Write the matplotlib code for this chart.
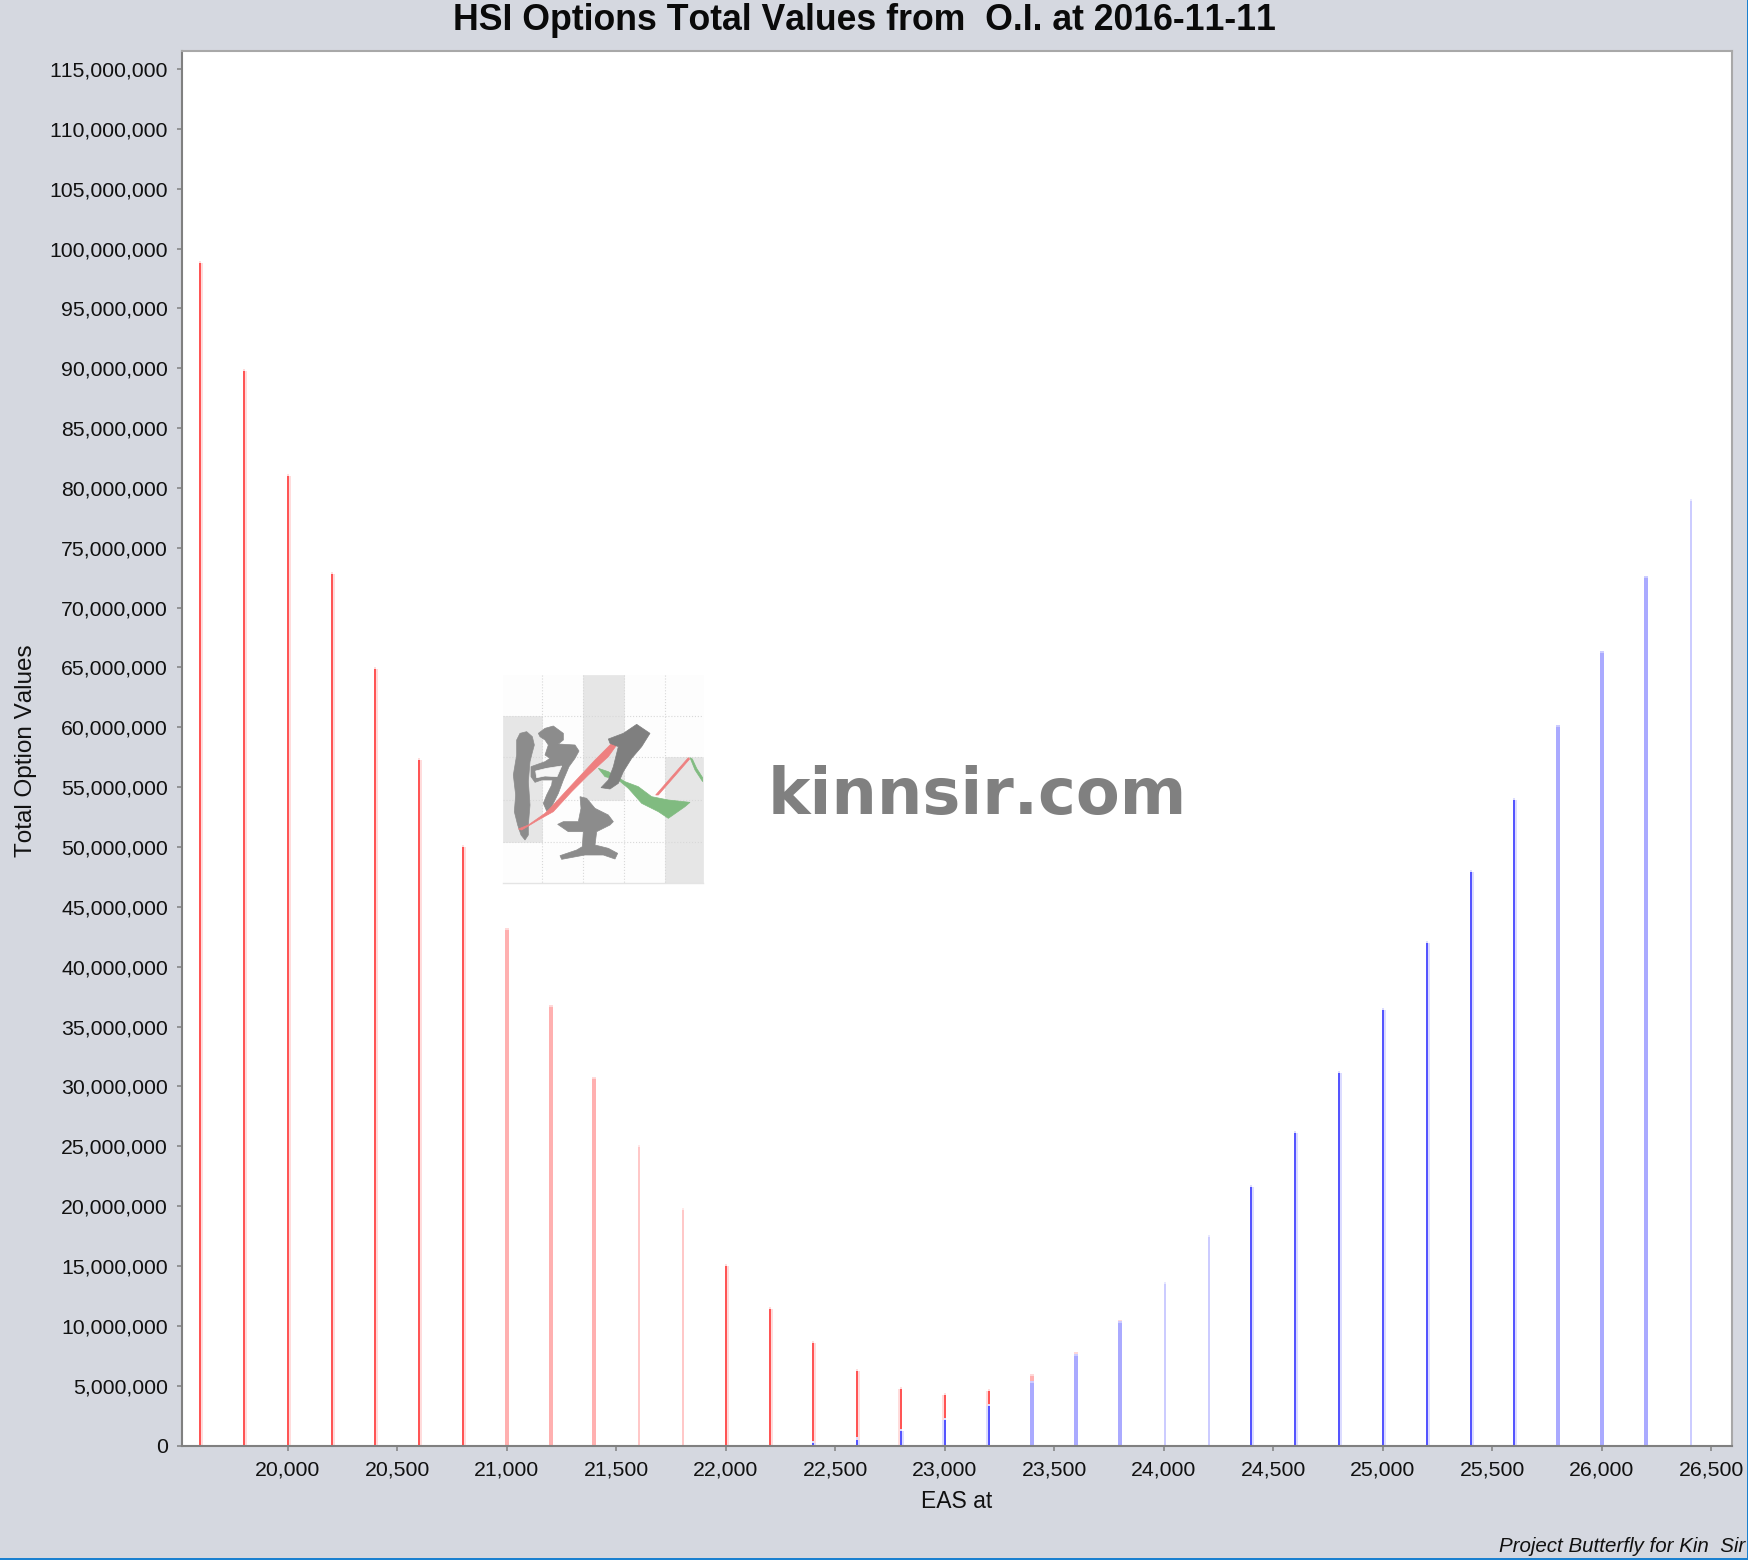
#!/usr/bin/python3

import matplotlib
matplotlib.use('Agg')
import matplotlib.pyplot as plt
from matplotlib.patches import Polygon, Rectangle
from matplotlib.ticker import FuncFormatter, MultipleLocator

# Values
strikes_red = [19600, 19800, 20000, 20200, 20400, 20600, 20800, 21000, 21200, 21400, 21600,
               21800, 22000, 22200, 22400, 22600, 22800, 23000, 23200, 23400, 23600, 23800]
values_red = [98800000, 89800000, 81000000, 72800000, 64900000, 57300000, 50000000, 43100000,
              36600000, 30600000, 24900000, 19700000, 15000000, 11400000, 8600000, 6200000,
              4750000, 4250000, 4550000, 5800000, 7650000, 10300000]
style_red = ['strong', 'strong', 'strong', 'strong', 'strong', 'strong', 'strong', 'wide',
             'wide', 'wide', 'thin', 'thin', 'strong', 'strong', 'strong', 'strong',
             'strong_l', 'strong_l', 'strong_l', 'wide', 'wide', 'wide']

strikes_blue = [22400, 22600, 22800, 23000, 23200, 23400, 23600, 23800, 24000, 24200, 24400, 24600,
                24800, 25000, 25200, 25400, 25600, 25800, 26000, 26200, 26400]
values_blue = [200000, 500000, 1200000, 2100000, 3300000, 5200000, 7500000, 10200000, 13500000,
               17400000, 21600000, 26100000, 31100000, 36400000, 42000000, 47900000, 53900000,
               60000000, 66200000, 72500000, 78900000]
style_blue = ['strong', 'strong', 'strong', 'strong_l', 'strong_l', 'wide', 'wide', 'wide', 'thin',
              'thin', 'strong', 'strong', 'strong', 'strong', 'strong', 'strong', 'strong',
              'wide', 'wide', 'wide', 'thin']

W, H = 1749, 1560
BG = '#d5d8e0'
PX_PER_UNIT = 0.219
CAP = 170000  # the paler cap on top of each bar, 2 px

COLORS = {
    'red': {'strong': ('#ff5555', '#ffdcdc'), 'wide': ('#ffb0b0', '#ffd8d8'), 'thin': ('#ffc8c8', '#ffe8e8')},
    'blue': {'strong': ('#5555ff', '#dcdcff'), 'wide': ('#aaaaff', '#ccccff'), 'thin': ('#ccccff', '#e8e8ff')},
}
FONT = 'Liberation Sans'

# no pair kerning, the original text is set without it
plt.rcParams['text.kerning_factor'] = 10


def draw_bars(ax, xs, ys, styles, name):
    for x, y, s in zip(xs, ys, styles):
        left = s == 'strong_l'
        s = 'strong' if left else s
        main, pale = COLORS[name][s]
        w = 2 if s != 'wide' else 4
        if s == 'thin':
            x = x + 1 / PX_PER_UNIT
        if s == 'strong':
            # pale halo next to the solid line
            off = -1 if left else 1
            ax.bar(x + off / PX_PER_UNIT, y, width=4 / PX_PER_UNIT, color=pale, antialiased=False)
        ax.bar(x, y + CAP, width=w / PX_PER_UNIT, color=pale, antialiased=False)
        ax.bar(x, y, width=w / PX_PER_UNIT, color=main, antialiased=False)


def draw_logo(ov):
    # logo outlines in pixels of the 3x crop, origin at (495, 665)
    def add(pts, color, z=3):
        ov.add_patch(Polygon([(495 + u / 3, 665 + v / 3) for u, v in pts], closed=True,
                             fc=color, ec=color, lw=0.5, zorder=z))

    cols = [23, 142, 264, 388, 511, 623]
    rows = [30, 152, 277, 405, 530, 655]
    add([(cols[0], rows[0]), (cols[5], rows[0]), (cols[5], rows[5]), (cols[0], rows[5])], '#fdfdfd', 1)
    add([(23, 152), (142, 152), (142, 530), (23, 530)], '#e6e6e6', 1)
    add([(264, 30), (388, 30), (388, 405), (264, 405)], '#e6e6e6', 1)
    add([(511, 277), (623, 277), (623, 655), (511, 655)], '#e6e6e6', 1)
    for c in cols[1:5]:
        ov.plot([495 + c / 3] * 2, [665 + 30 / 3, 665 + 655 / 3], color='#d8d8d8', lw=0.8, ls=':', zorder=2)
    for r in rows[1:5]:
        ov.plot([495 + 23 / 3, 495 + 623 / 3], [665 + r / 3] * 2, color='#d8d8d8', lw=0.8, ls=':', zorder=2)
    ov.plot([495 + 23 / 3, 495 + 623 / 3], [665 + 655 / 3] * 2, color='#e4e4e4', lw=1, zorder=2)

    grey = '#8c8c8c'
    add([(75, 205), (95, 200), (112, 215), (118, 240), (112, 262), (105, 290), (100, 350), (105, 420),
         (100, 480), (100, 510), (90, 525), (78, 510), (68, 480), (58, 440), (62, 390), (55, 330),
         (65, 270), (65, 225)], grey)
    add([(130, 205), (150, 190), (175, 183), (205, 205), (205, 225), (190, 237), (240, 240), (252, 258),
         (240, 280), (222, 305), (205, 345), (190, 385), (165, 435), (155, 438), (145, 415), (155, 390),
         (170, 360), (172, 345), (140, 345), (120, 352), (108, 335), (108, 305), (150, 290), (165, 280),
         (150, 270), (160, 240), (150, 225), (135, 215)], grey)
    add([(122, 318), (155, 310), (200, 303), (186, 335), (150, 333), (125, 338)], '#f6f6f6')
    add([(255, 395), (275, 400), (300, 430), (340, 450), (355, 470), (345, 480), (305, 500), (300, 540),
         (340, 550), (368, 565), (360, 582), (325, 570), (270, 570), (200, 583), (195, 572), (245, 555),
         (262, 545), (265, 500), (220, 500), (188, 478), (205, 470), (250, 470), (258, 430)], grey)
    add([(70, 492), (100, 480), (150, 445), (170, 425), (230, 360), (300, 285), (350, 235), (365, 240),
         (340, 275), (280, 330), (230, 380), (175, 440), (130, 465), (80, 495)], '#ee8080', 4)
    add([(482, 390), (580, 278), (584, 282), (490, 390)], '#ee8080', 4)
    add([(310, 310), (340, 320), (390, 350), (430, 365), (470, 395), (520, 405), (585, 412), (570, 425),
         (520, 460), (490, 440), (440, 415), (400, 370), (370, 345), (330, 335)], '#80bb80', 4)
    add([(585, 278), (592, 282), (605, 310), (623, 338), (623, 350), (600, 315)], '#80bb80', 4)
    add([(340, 222), (385, 205), (425, 178), (465, 205), (440, 245), (410, 280), (385, 320), (370, 355),
         (345, 372), (318, 368), (340, 345), (355, 305), (365, 265), (370, 245), (345, 235)], '#7f7f7f', 5)


def main():
    fig = plt.figure(figsize=(W / 100, H / 100), dpi=100, facecolor=BG)
    ax = fig.add_axes([182.5 / W, 1 - 1445.5 / H, (1732 - 182.5) / W, (1445.5 - 51) / H])

    draw_bars(ax, strikes_red, values_red, style_red, 'red')
    draw_bars(ax, strikes_blue, values_blue, style_blue, 'blue')

    ax.set_xlim(19519, 26594)
    ax.set_ylim(0, 116500000)
    ax.xaxis.set_major_locator(MultipleLocator(500))
    ax.yaxis.set_major_locator(MultipleLocator(5000000))
    fmt = FuncFormatter(lambda v, p: f'{int(v):,}')
    ax.xaxis.set_major_formatter(fmt)
    ax.yaxis.set_major_formatter(fmt)
    ax.tick_params(axis='both', length=3.5, width=1.1, color='#808080', labelsize=15.3,
                   labelcolor='#111111', pad=7)
    for lab in ax.get_xticklabels() + ax.get_yticklabels():
        lab.set_fontfamily(FONT)

    ax.spines['left'].set(color='#808080', lw=1.5)
    ax.spines['bottom'].set(color='#808080', lw=1.5)
    ax.spines['top'].set(color='#a8a8a8', lw=1.5)
    ax.spines['right'].set(color='#a8a8a8', lw=1.5)

    # overlay in image pixels for the logo and the free text
    ov = fig.add_axes([0, 0, 1, 1])
    ov.set_xlim(0, W)
    ov.set_ylim(H, 0)
    ov.axis('off')
    ov.patch.set_alpha(0)

    draw_logo(ov)
    ov.text(768, 814, 'kinnsir.com', fontsize=46, fontweight='bold', family='DejaVu Sans',
            color='#808080', ha='left', va='baseline')

    ov.text(864, 20, 'HSI Options Total Values from  O.I. at 2016-11-11', fontsize=25.7, fontweight='bold',
            family=FONT, color='#0a0a0a', ha='center', va='center')
    ov.text(957, 1502, 'EAS at', fontsize=16.5, family=FONT, color='#111111', ha='center', va='center')
    ov.text(26, 751, 'Total Option Values', fontsize=17.5, family=FONT, color='#111111', rotation=90,
            ha='center', va='center')
    note = ov.text(1499, 1552, 'Project Butterfly for Kin  Sir', fontsize=14.8, style='italic', family=FONT,
                   color='#111111', ha='left', va='baseline')
    note.set_clip_path(Rectangle((0, 0), W - 2, H, transform=ov.transData))
    note.set_clip_on(True)

    # blue window edge on the right and at the bottom
    ov.add_patch(Rectangle((W - 2, 0), 2, H, fc='#1a80d0', ec='none', zorder=10))
    ov.add_patch(Rectangle((0, H - 2), W, 2, fc='#1a80d0', ec='none', zorder=10))

    fig.savefig('out.png', dpi=100, facecolor=BG)


if __name__ == '__main__':
    main()
